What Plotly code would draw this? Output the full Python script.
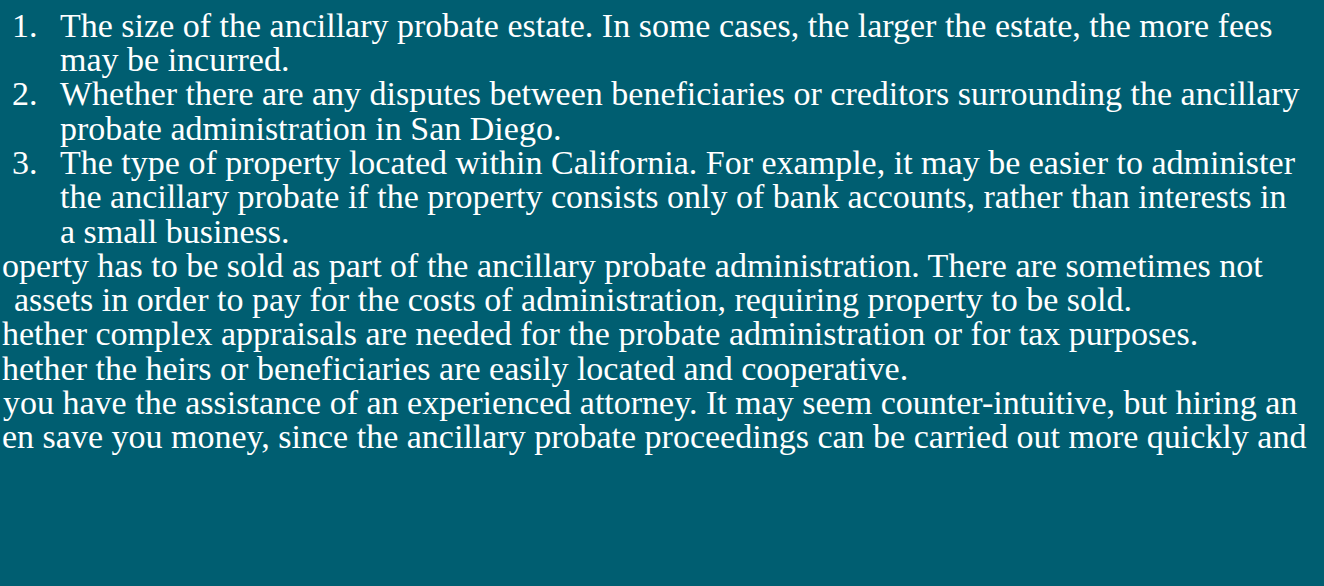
import plotly.graph_objects as go

# ---- content (text lines as they appear, top to bottom) ----
item_numbers = ["1.", "", "2.", "", "3.", "", "", "", "", "", "", "", ""]
line_texts = [
    "The size of the ancillary probate estate. In some cases, the larger the estate, the more fees",
    "may be incurred.",
    "Whether there are any disputes between beneficiaries or creditors surrounding the ancillary",
    "probate administration in San Diego.",
    "The type of property located within California. For example, it may be easier to administer",
    "the ancillary probate if the property consists only of bank accounts, rather than interests in",
    "a small business.",
    "operty has to be sold as part of the ancillary probate administration. There are sometimes not",
    "assets in order to pay for the costs of administration, requiring property to be sold.",
    "hether complex appraisals are needed for the probate administration or for tax purposes.",
    "hether the heirs or beneficiaries are easily located and cooperative.",
    "you have the assistance of an experienced attorney. It may seem counter-intuitive, but hiring an",
    "en save you money, since the ancillary probate proceedings can be carried out more quickly and",
]
# which lines belong to the indented numbered list (True) vs. the cropped paragraph lines (False)
in_list = [True, True, True, True, True, True, True, False, False, False, False, False, False]

# ---- styling / layout ----
W, H = 1324, 586
BG = "#005E71"
FG = "#FFFFFF"
FONT = "Liberation Serif"
SIZE = 34
LINE_H = 34.25
TOP = 25.5
NUM_X = 10
TEXT_X = 58
CROP_X = {7: 0, 8: 12, 9: 0, 10: 0, 11: 1, 12: 0}

fig = go.Figure()
fig.add_trace(go.Scatter(x=[0, W], y=[0, H], mode="markers",
                         marker=dict(opacity=0), hoverinfo="skip", showlegend=False))

font = dict(family=FONT, size=SIZE, color=FG)
annotations = []
for i, (num, txt) in enumerate(zip(item_numbers, line_texts)):
    y = 1 - (TOP + i * LINE_H) / H
    if num:
        annotations.append(dict(x=NUM_X / W, y=y, text=num, xref="paper", yref="paper",
                                xanchor="left", yanchor="middle", showarrow=False, font=font))
    x = TEXT_X if in_list[i] else CROP_X.get(i, 0)
    annotations.append(dict(x=x / W, y=y, text=txt, xref="paper", yref="paper",
                            xanchor="left", yanchor="middle", showarrow=False, font=font))

fig.update_layout(
    width=W, height=H,
    margin=dict(l=0, r=0, t=0, b=0),
    paper_bgcolor=BG, plot_bgcolor=BG,
    xaxis=dict(range=[0, W], visible=False, fixedrange=True),
    yaxis=dict(range=[H, 0], visible=False, fixedrange=True),
    annotations=annotations,
    showlegend=False,
)
fig.write_html("out.html", config={"displayModeBar": False},
               post_script="document.body.style.margin='0';document.body.style.overflow='hidden';")
